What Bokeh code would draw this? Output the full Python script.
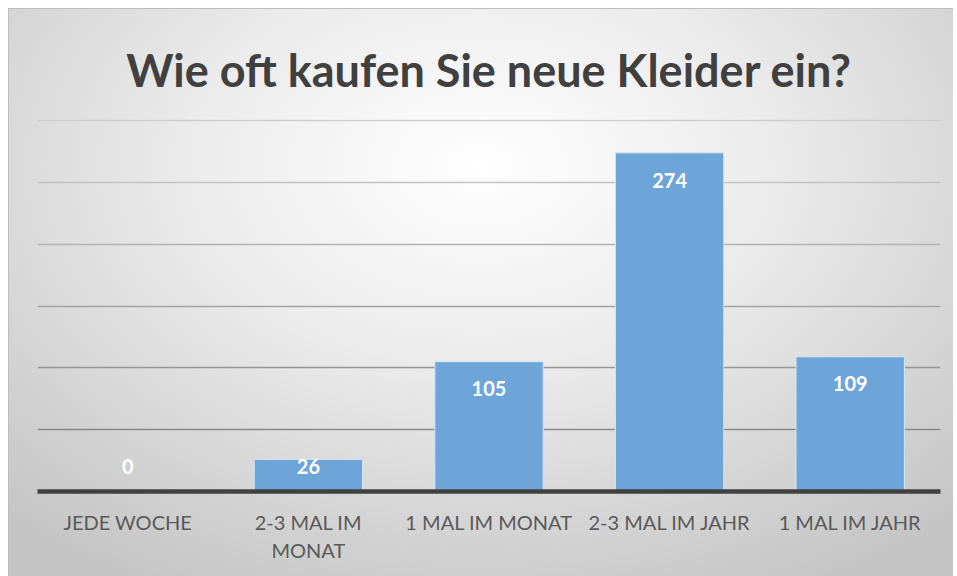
from bokeh.plotting import figure
from bokeh.models import ColumnDataSource, Grid, FixedTicker, Range1d
from bokeh.core.properties import value
from bokeh.embed import file_html
from bokeh.resources import INLINE

categories = ["JEDE WOCHE", "2-3 MAL IM\nMONAT", "1 MAL IM MONAT", "2-3 MAL IM JAHR", "1 MAL IM JAHR"]
counts = [0, 26, 105, 274, 109]
grid_values = [50, 100, 150, 200, 250, 300]
grid_colors = ["#8a8a8a", "#959595", "#a3a3a3", "#b2b2b2", "#c2c2c2", "#cdcdcd"]
title_text = "Wie oft kaufen Sie neue Kleider ein?"

label_pos = [max(v - 22, 20) for v in counts]
source = ColumnDataSource(dict(cat=categories, val=counts, lab=[str(v) for v in counts], ly=label_pos))

p = figure(x_range=categories, y_range=Range1d(0, 301), width=945, height=568,
           output_backend="svg", toolbar_location=None, title=title_text,
           min_border_left=29, min_border_right=13, min_border_bottom=85, min_border_top=111)
p.margin = (8, 0, 0, 8)

p.background_fill_alpha = 0
p.border_fill_alpha = 0
p.outline_line_color = None
p.styles = {"background": "radial-gradient(ellipse 75% 85% at 50% 28%, #ffffff 0%, #ececec 40%, #d4d4d4 75%, #c4c4c4 100%)",
            "box-shadow": "inset 1px 1px 0 #bdbdbd"}

p.title.text_font = "Lato"
p.title.text_font_size = "45px"
p.title.text_font_style = "bold"
p.title.text_color = "#404040"
p.title.align = "center"
p.title.standoff = 46

p.xgrid.visible = False
p.ygrid.visible = False
for gv, gc in zip(grid_values, grid_colors):
    g = Grid(dimension=1, ticker=FixedTicker(ticks=[gv]), grid_line_color=gc, grid_line_width=1.7)
    p.add_layout(g)

p.vbar(x="cat", top="val", width=0.6, source=source, fill_color="#6ea5d8",
       line_color="#d6e6f4", line_width=1)

p.text(x="cat", y="ly", text="lab", source=source, text_color="white",
       text_font=value("Lato"), text_font_style="bold", text_font_size="20px",
       text_align="center", text_baseline="middle")

p.yaxis.visible = False
p.xaxis.axis_line_color = "#404040"
p.xaxis.axis_line_width = 4.5
p.xaxis.major_tick_line_color = None
p.xaxis.minor_tick_line_color = None
p.xaxis.major_label_text_font = "Lato"
p.xaxis.major_label_text_font_size = "20px"
p.xaxis.major_label_text_color = "#595959"
p.xaxis.major_label_standoff = 12
p.x_range.range_padding = 0

open("out.html", "w").write(file_html(p, INLINE))
